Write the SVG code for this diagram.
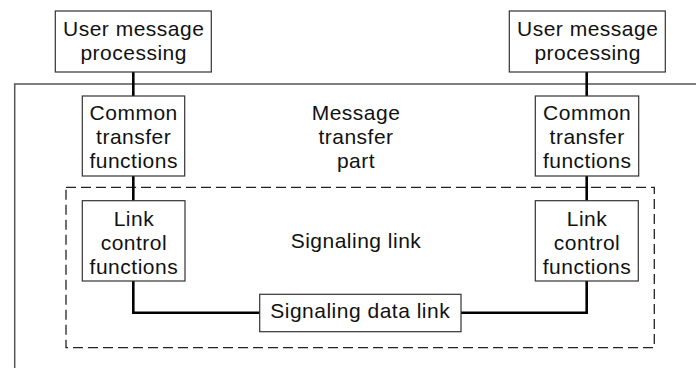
<svg xmlns="http://www.w3.org/2000/svg" width="696" height="368" viewBox="0 0 696 368">
  <style>
    .box { fill: #fff; stroke: #333; stroke-width: 1.2; }
    .frame { fill: none; stroke: #555; stroke-width: 1.5; }
    .dash { fill: none; stroke: #222; stroke-width: 1.3; stroke-dasharray: 10 5; }
    .wire { fill: none; stroke: #000; stroke-width: 2.6; }
    text { font-family: "Liberation Sans", Arial, sans-serif; font-size: 21px; fill: #111; text-anchor: middle; letter-spacing: 0.5px; }
  </style>
  <rect width="696" height="368" fill="#fff"/>

  <!-- message transfer part frame (open to right and bottom) -->
  <path class="frame" d="M14.7 368 V84 H696"/>
  <!-- signaling link boundary -->
  <rect class="dash" x="66" y="187.3" width="588.3" height="160.4"/>

  <g id="connectors">
    <path class="wire" d="M133.3 72 V96"/>
    <path class="wire" d="M133.3 176 V200.7"/>
    <path class="wire" d="M586.7 72 V96"/>
    <path class="wire" d="M586.7 176 V200.7"/>
    <path class="wire" d="M133.3 281 V312.7 H259.7"/>
    <path class="wire" d="M461 312.7 H586.7 V281"/>
  </g>

  <g id="mtp-label">
    <text x="356" y="120">Message</text>
    <text x="356" y="144">transfer</text>
    <text x="356" y="168">part</text>
  </g>
  <g id="sl-label">
    <text x="356" y="248.3">Signaling link</text>
  </g>

  <g id="user-left">
    <rect class="box" x="55.3" y="11" width="156" height="61"/>
    <text x="133.7" y="36">User message</text>
    <text x="133.7" y="60">processing</text>
  </g>
  <g id="user-right">
    <rect class="box" x="509.3" y="11" width="156" height="61"/>
    <text x="587.7" y="36">User message</text>
    <text x="587.7" y="60">processing</text>
  </g>

  <g id="ctf-left">
    <rect class="box" x="82.3" y="96" width="102.4" height="80"/>
    <text x="133.7" y="120">Common</text>
    <text x="133.7" y="144">transfer</text>
    <text x="133.7" y="168">functions</text>
  </g>
  <g id="ctf-right">
    <rect class="box" x="535.3" y="96" width="103.4" height="80"/>
    <text x="587.2" y="120">Common</text>
    <text x="587.2" y="144">transfer</text>
    <text x="587.2" y="168">functions</text>
  </g>

  <g id="lcf-left">
    <rect class="box" x="82.3" y="200.7" width="102.7" height="80.3"/>
    <text x="133.9" y="226">Link</text>
    <text x="133.9" y="250">control</text>
    <text x="133.9" y="274">functions</text>
  </g>
  <g id="lcf-right">
    <rect class="box" x="535.3" y="200.7" width="103" height="80.3"/>
    <text x="587" y="226">Link</text>
    <text x="587" y="250">control</text>
    <text x="587" y="274">functions</text>
  </g>

  <g id="sdl">
    <rect class="box" x="259.7" y="294.3" width="201.3" height="37.4"/>
    <text x="360.2" y="318.3">Signaling data link</text>
  </g>
</svg>
